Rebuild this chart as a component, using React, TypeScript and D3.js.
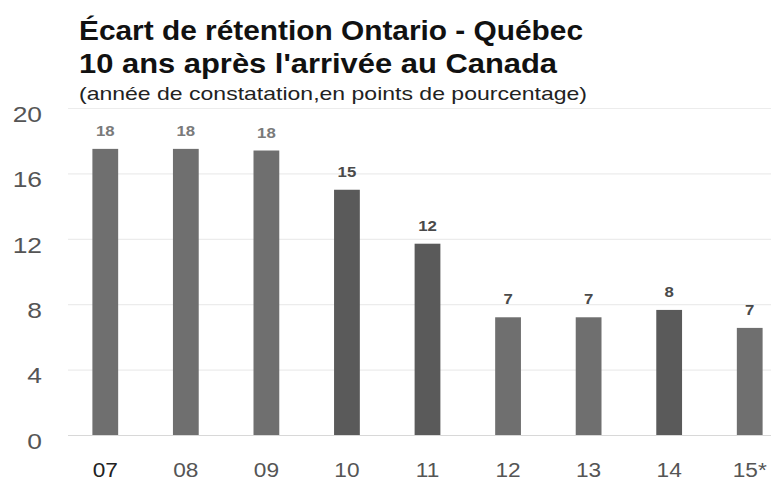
import { useRef, useEffect } from 'react';
import * as d3 from 'd3';

const years = ['07', '08', '09', '10', '11', '12', '13', '14', '15*'];
const heights = [17.5, 17.5, 17.4, 15.0, 11.7, 7.2, 7.2, 7.65, 6.55];
const labels = ['18', '18', '18', '15', '12', '7', '7', '8', '7'];
const darkBars = ['10', '11', '14'];
const yTicks = [0, 4, 8, 12, 16, 20];

const W = 771;
const H = 481;
const FONT = 'Liberation Sans, Arial, sans-serif';
const SX = 1.2; // text in the picture is a bit wider than Arial

const App = () => {
  const svgRef = useRef<SVGSVGElement>(null);

  useEffect(() => {
    const svg = d3.select(svgRef.current);
    svg.selectAll('*').remove();

    const x = d3.scaleBand<string>()
      .domain(years)
      .range([65, 790])
      .paddingInner(0.68)
      .paddingOuter(0.34);

    const y = d3.scaleLinear().domain([0, 20]).range([435, 108]);

    // gridlines
    svg.append('g')
      .selectAll('line')
      .data(yTicks)
      .enter()
      .append('line')
      .attr('x1', 68)
      .attr('x2', W)
      .attr('y1', d => y(d) + 0.5)
      .attr('y2', d => y(d) + 0.5)
      .attr('stroke', d => (d === 0 ? '#d8d8d8' : '#ececec'))
      .attr('stroke-width', 1.2);

    // y tick labels
    svg.append('g')
      .selectAll('text')
      .data(yTicks)
      .enter()
      .append('text')
      .attr('transform', d => `translate(42,${y(d) + 6}) scale(${SX},1)`)
      .attr('dy', '0.35em')
      .attr('text-anchor', 'end')
      .attr('font-family', FONT)
      .attr('font-size', 22)
      .attr('fill', '#555')
      .text(d => d);

    // bars
    svg.append('g')
      .selectAll('rect')
      .data(heights)
      .enter()
      .append('rect')
      .attr('x', (d, i) => x(years[i]) as number)
      .attr('y', d => y(d))
      .attr('width', x.bandwidth())
      .attr('height', d => y(0) - y(d))
      .attr('fill', (d, i) => (darkBars.includes(years[i]) ? '#5a5a5a' : '#6f6f6f'));

    // value labels
    svg.append('g')
      .selectAll('text')
      .data(heights)
      .enter()
      .append('text')
      .attr('transform', (d, i) =>
        `translate(${(x(years[i]) as number) + x.bandwidth() / 2},${y(d) - 13}) scale(${SX},1)`)
      .attr('text-anchor', 'middle')
      .attr('font-family', FONT)
      .attr('font-size', 14)
      .attr('font-weight', 'bold')
      .attr('fill', (d, i) => (i < 3 ? '#7a7a7a' : '#4a4a4a'))
      .text((d, i) => labels[i]);

    // x labels
    svg.append('g')
      .selectAll('text')
      .data(years)
      .enter()
      .append('text')
      .attr('transform', d => `translate(${(x(d) as number) + x.bandwidth() / 2},477) scale(1.08,1)`)
      .attr('text-anchor', 'middle')
      .attr('font-family', FONT)
      .attr('font-size', 21)
      .attr('fill', (d, i) => (i === 0 ? '#222' : '#555'))
      .text(d => d);

    // titles
    const title = svg.append('g').attr('font-family', FONT);
    title.append('text')
      .attr('x', 79).attr('y', 40)
      .attr('font-size', 27).attr('font-weight', 'bold').attr('fill', '#111')
      .attr('textLength', 504).attr('lengthAdjust', 'spacingAndGlyphs')
      .text('Écart de rétention Ontario - Québec');
    title.append('text')
      .attr('x', 79).attr('y', 73)
      .attr('font-size', 27).attr('font-weight', 'bold').attr('fill', '#111')
      .attr('textLength', 478).attr('lengthAdjust', 'spacingAndGlyphs')
      .text("10 ans après l'arrivée au Canada");
    title.append('text')
      .attr('x', 79).attr('y', 100)
      .attr('font-size', 19).attr('fill', '#222')
      .attr('textLength', 508).attr('lengthAdjust', 'spacingAndGlyphs')
      .text('(année de constatation,en points de pourcentage)');
  }, []);

  return (
    <svg
      ref={svgRef}
      width={W}
      height={H}
      style={{ position: 'absolute', left: 0, top: 0, background: '#fff' }}
    ></svg>
  );
};

export default App;
